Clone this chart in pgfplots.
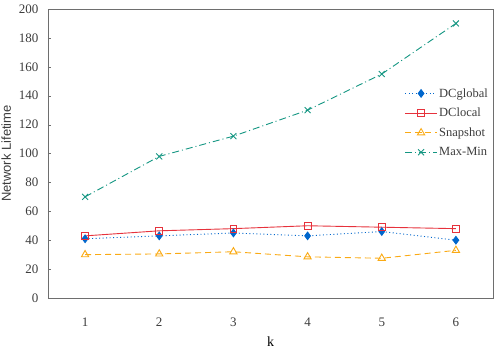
\documentclass[border=0pt]{standalone}
\usepackage{fontspec}
\setmainfont{Liberation Serif}
\setsansfont{Liberation Sans}
\usepackage{pgfplots}
\pgfplotsset{compat=1.18}
\definecolor{axgray}{RGB}{110,110,110}
\definecolor{txtgray}{RGB}{60,60,60}
\definecolor{cblue}{RGB}{0,102,204}
\definecolor{cred}{RGB}{230,50,60}
\definecolor{corange}{RGB}{250,170,20}
\definecolor{cteal}{RGB}{20,150,130}
\begin{document}
\begin{tikzpicture}
\begin{axis}[
  scale only axis,
  width=445pt, height=289pt,
  xmin=0.5, xmax=6.5, ymin=0, ymax=200,
  xtick={1,2,3,4,5,6},
  ytick={0,20,...,200},
  xtick style={draw=none},
  ytick style={axgray},
  major tick length=3pt, tick align=inside,
  extra x ticks={1.5,2.5,3.5,4.5,5.5},
  extra x tick labels={},
  extra x tick style={major tick length=4pt, tick align=inside, tick style={axgray, draw=axgray}},
  xtick pos=bottom, ytick pos=left,
  axis line style={axgray, line width=0.8pt},
  tick label style={font=\fontsize{13}{13}\selectfont, text=txtgray},
  xticklabel style={yshift=-16pt},
  yticklabel style={xshift=-6pt},
  /pgf/number format/assume math mode=true,
  xlabel={k}, ylabel={\sffamily Network Lifetime},
  xlabel style={font=\fontsize{14}{14}\selectfont, yshift=-4pt},
  ylabel style={font=\fontsize{13}{13}\selectfont, text=txtgray, yshift=1pt},
  legend style={at={(1,0.74)}, anchor=north east, draw=none, fill=none,
    font=\fontsize{12.5}{12.5}\selectfont, text=txtgray, row sep=5.5pt},
  legend cell align=left,
  legend image code/.code={
    \draw[mark repeat=2,mark phase=2,#1] plot coordinates {(0cm,0cm) (0.55cm,0cm) (1.1cm,0cm)};
  },
]
\addplot[cblue, dash pattern=on 1pt off 2.5pt, line width=0.9pt, mark=diamond*, mark size=3.8pt, mark options={solid, fill=cblue}]
  coordinates {(1,41) (2,43) (3,45) (4,43) (5,46) (6,40)};
\addlegendentry{DCglobal}
\addplot[cred, solid, line width=0.9pt, mark=square, mark size=3.4pt, mark options={solid}]
  coordinates {(1,43) (2,46.5) (3,48) (4,50) (5,49) (6,48)};
\addlegendentry{DClocal}
\addplot[corange, dash pattern=on 6pt off 4pt, line width=0.9pt, mark=triangle, mark size=4.2pt, mark options={solid}]
  coordinates {(1,30) (2,30.5) (3,32) (4,28.5) (5,27.5) (6,33)};
\addlegendentry{Snapshot}
\addplot[cteal, dash pattern=on 7pt off 3pt on 1pt off 3pt, line width=0.9pt, mark=x, mark size=4.2pt, mark options={solid}]
  coordinates {(1,70) (2,98) (3,112) (4,130) (5,155) (6,190)};
\addlegendentry{Max-Min}
\end{axis}
\pgfresetboundingbox
\path (current axis.south west) ++(-48pt,-53pt) rectangle ++(497pt,351pt);
\end{tikzpicture}
\end{document}
